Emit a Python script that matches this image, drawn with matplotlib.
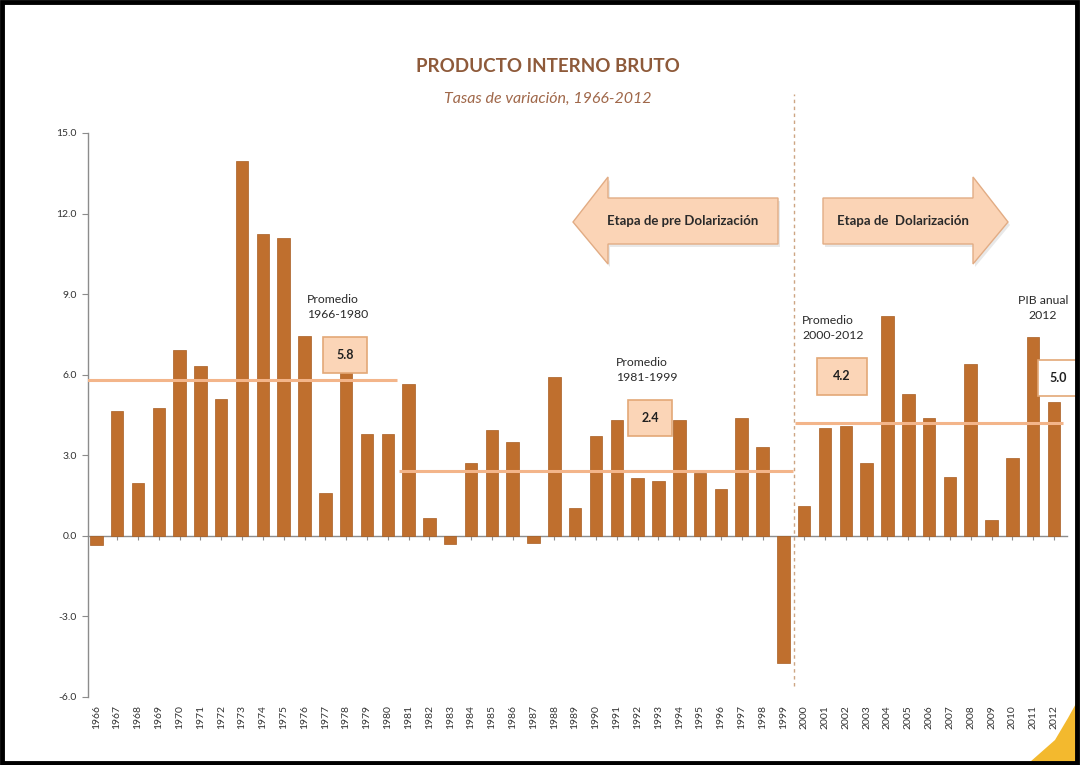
import matplotlib
matplotlib.use("Agg")
import matplotlib.pyplot as plt
from matplotlib.patches import Polygon, Rectangle

plt.rcParams['font.family'] = ['Lato', 'DejaVu Sans']

years = [str(y) for y in range(1966, 2013)]
growth = [-0.35, 4.65, 1.97, 4.77, 6.93, 6.33, 5.10, 13.97, 11.25, 11.10,
          7.45, 1.60, 6.10, 3.80, 3.80, 5.65, 0.65, -0.30, 2.70, 3.95,
          3.50, -0.25, 5.90, 1.05, 3.70, 4.30, 2.15, 2.05, 4.30, 2.35,
          1.75, 4.40, 3.30, -4.75, 1.10, 4.00, 4.10, 2.70, 8.20, 5.30,
          4.40, 2.20, 6.40, 0.60, 2.90, 7.40, 5.00]
avg_periods = [("1966", "1980"), ("1981", "1999"), ("2000", "2012")]
avg_values = [5.8, 2.4, 4.2]
y_ticks = [-6.0, -3.0, 0.0, 3.0, 6.0, 9.0, 12.0, 15.0]

W, H = 1081, 765
fig = plt.figure(figsize=(W / 100, H / 100), dpi=100)
fig.patch.set_facecolor('white')

def fx(px):
    return px / W

def fy(py):
    return 1 - py / H

ax = fig.add_axes([fx(88), fy(697), fx(1066.5) - fx(88), fy(133) - fy(697)])
ax.set_facecolor('none')
x = list(range(len(years)))
bar_color = '#BF6F2E'
ax.bar(x, growth, width=0.6, color=bar_color, edgecolor='#A85E22', linewidth=0.5, zorder=3)

ax.set_xlim(-0.4, len(years) - 0.4)
ax.set_ylim(-6, 15)
ax.set_yticks(y_ticks)
ax.set_yticklabels([f"{v:.1f}" for v in y_ticks], fontsize=7.5, color='#333333')
ax.tick_params(axis='y', length=4, color='#8C8C8C', width=0.8, pad=4)

for s in ['top', 'right']:
    ax.spines[s].set_visible(False)
ax.spines['left'].set_color('#8C8C8C')
ax.spines['left'].set_linewidth(1.0)
ax.spines['bottom'].set_position(('data', 0))
ax.spines['bottom'].set_color('#8C8C8C')
ax.spines['bottom'].set_linewidth(1.0)
ax.set_xticks(x)
ax.set_xticklabels([])
ax.tick_params(axis='x', length=3, color='#8C8C8C', width=0.8)

for xi, lab in zip(x, years):
    ax.text(xi, -6.3, lab, rotation=90, ha='center', va='top', fontsize=7.5,
            color='#333333')

# average lines
line_color = '#F3B58A'
for (a, b), v in zip(avg_periods, avg_values):
    i0, i1 = years.index(a), years.index(b)
    ax.plot([i0 - 0.45, i1 + 0.45], [v, v], color=line_color, lw=2.2, zorder=4,
            solid_capstyle='butt')

# dividing dashed line between periods
ax.axvline(years.index("2000") - 0.5, ymin=0.02, ymax=1.07, color='#CDA583',
           lw=1.0, ls=(0, (2.5, 2.5)), zorder=2, clip_on=False)

# title
fig.text(fx(548), fy(67), "PRODUCTO INTERNO BRUTO", ha='center', va='center',
         fontsize=13.5, fontweight='bold', color='#8E5A3A')
fig.text(fx(548), fy(99), "Tasas de variación, 1966-2012", ha='center', va='center',
         fontsize=11.5, style='italic', color='#A0684A')

# arrows
arrow_fc = '#FBD4B6'
arrow_ec = '#E2AC84'
left_arrow = [(573, 222), (608, 177), (608, 198), (778, 198), (778, 244),
              (608, 244), (608, 264)]
right_arrow = [(823, 198), (973, 198), (973, 177), (1008, 222), (973, 264),
               (973, 244), (823, 244)]
for pts in (left_arrow, right_arrow):
    shadow = Polygon([(fx(px + 2), fy(py + 3)) for px, py in pts], closed=True,
                     transform=fig.transFigure, fc='#E8E8E8', ec='none', zorder=1)
    fig.patches.append(shadow)
    poly = Polygon([(fx(px), fy(py)) for px, py in pts], closed=True,
                   transform=fig.transFigure, fc=arrow_fc, ec=arrow_ec, lw=1.0, zorder=2)
    fig.patches.append(poly)
fig.text(fx(683), fy(221), "Etapa de pre Dolarización", ha='center', va='center',
         fontsize=9.5, fontweight='bold', color='#2A2A2A', zorder=5)
fig.text(fx(903), fy(221), "Etapa de  Dolarización", ha='center', va='center',
         fontsize=9.5, fontweight='bold', color='#2A2A2A', zorder=5)

# annotations
note_kw = dict(fontsize=8.8, color='#2A2A2A', linespacing=1.55, zorder=6)
fig.text(fx(307), fy(307), "Promedio\n1966-1980", ha='left', va='center', **note_kw)
fig.text(fx(616), fy(370), "Promedio\n1981-1999", ha='left', va='center', **note_kw)
fig.text(fx(802), fy(328), "Promedio\n2000-2012", ha='left', va='center', **note_kw)
fig.text(fx(1043), fy(308), "PIB anual\n2012", ha='center', va='center', **note_kw)

def value_box(cx, cy, w, h, txt, fc):
    r = Rectangle((fx(cx - w / 2), fy(cy + h / 2)), fx(w), h / H,
                  transform=fig.transFigure, fc=fc, ec='#E3A877', lw=1.2, zorder=5)
    fig.patches.append(r)
    fig.text(fx(cx), fy(cy), txt, ha='center', va='center', fontsize=9,
             fontweight='bold', color='#202020', zorder=7)

value_box(345, 355, 44, 36, f"{avg_values[0]:.1f}", '#FBD5B7')
value_box(650, 418, 44, 36, f"{avg_values[1]:.1f}", '#FBD5B7')
value_box(842, 376, 50, 37, f"{avg_values[2]:.1f}", '#FBD5B7')
value_box(1058, 378, 40, 36, f"{growth[-1]:.1f}", '#FFFFFF')

# decorative yellow corner
corner = Polygon([(fx(1078), fy(700)), (fx(1078), fy(762)), (fx(1030), fy(762)),
                  (fx(1055), fy(740)), (fx(1068), fy(718))], closed=True,
                 transform=fig.transFigure, fc='#F3B92E', ec='none', zorder=1)
fig.patches.append(corner)

# outer frame
frame = Rectangle((fx(2), fy(763)), fx(1077) - fx(2), fy(2) - fy(763),
                  transform=fig.transFigure, fc='none', ec='black', lw=3.5, zorder=10)
fig.patches.append(frame)

fig.savefig('out.png', dpi=100, facecolor='white')
